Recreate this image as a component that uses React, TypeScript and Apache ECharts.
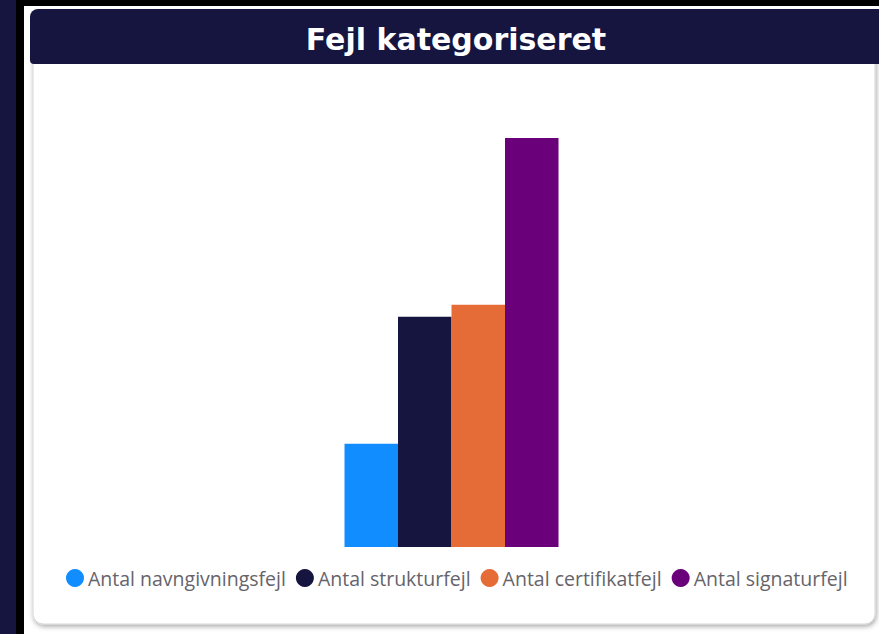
import React, { useEffect, useRef } from "react";
import * as echarts from "echarts";

const titleText = "Fejl kategoriseret";
const categories = ["Fejl"];
const seriesNames = [
  "Antal navngivningsfejl",
  "Antal strukturfejl",
  "Antal certifikatfejl",
  "Antal signaturfejl",
];
const seriesValues = [26, 58, 61, 103];
const seriesColors = ["#118DFF", "#15153F", "#E66C37", "#6B007B"];
const yMax = 103;

export default function App() {
  const ref = useRef<HTMLDivElement>(null);
  useEffect(() => {
    if (!ref.current) return;
    const chart = echarts.init(ref.current, null, { renderer: "svg" });
    const W = 879;
    const H = 634;
    chart.setOption({
      animation: false,
      backgroundColor: "#ffffff",
      graphic: [
        { type: "rect", z: -10, shape: { x: 0, y: 0, width: W, height: H }, style: { fill: "#000000" } },
        { type: "rect", z: -9, shape: { x: 0, y: 0, width: 16, height: H }, style: { fill: "#15153F" } },
        { type: "rect", z: -9, shape: { x: 24, y: 6, width: W - 24, height: H - 6 }, style: { fill: "#ffffff" } },
        {
          type: "rect",
          z: -8,
          shape: { x: 33, y: 40, width: 842, height: 584, r: 10 },
          style: {
            fill: "#ffffff",
            stroke: "#d6d6d6",
            lineWidth: 1,
            shadowBlur: 5,
            shadowColor: "rgba(0,0,0,0.35)",
            shadowOffsetX: 1,
            shadowOffsetY: 2,
          },
        },
        {
          type: "rect",
          z: -7,
          shape: { x: 30, y: 9, width: W - 30 + 10, height: 55, r: [8, 0, 0, 4] },
          style: { fill: "#15153F" },
        },
        {
          type: "text",
          z: -6,
          x: 456,
          y: 39,
          style: {
            text: titleText,
            fill: "#ffffff",
            font: "bold 30px 'DejaVu Sans', sans-serif",
            textAlign: "center",
            textVerticalAlign: "middle",
          },
        },
      ],
      legend: {
        left: 61,
        top: 563,
        icon: "circle",
        itemWidth: 18,
        itemHeight: 18,
        itemGap: 10,
        textStyle: {
          color: "#66646a",
          fontFamily: "'Open Sans', sans-serif",
          fontSize: 19.5,
          padding: [0, 0, 0, -1],
        },
        data: seriesNames,
      },
      grid: { left: 33, right: 9, top: 138, bottom: 87, containLabel: false },
      xAxis: {
        type: "category",
        data: categories,
        show: false,
      },
      yAxis: {
        type: "value",
        min: 0,
        max: yMax,
        show: false,
        splitLine: { show: false },
      },
      series: seriesNames.map((name, i) => ({
        name,
        type: "bar",
        data: [seriesValues[i]],
        barWidth: 53.5,
        barGap: "0%",
        itemStyle: { color: seriesColors[i] },
      })),
    });
    return () => chart.dispose();
  }, []);
  return (
    <div style={{ position: "fixed", left: 0, top: 0, width: 879, height: 634 }}>
      <div ref={ref} style={{ width: 879, height: 634 }} />
    </div>
  );
}
